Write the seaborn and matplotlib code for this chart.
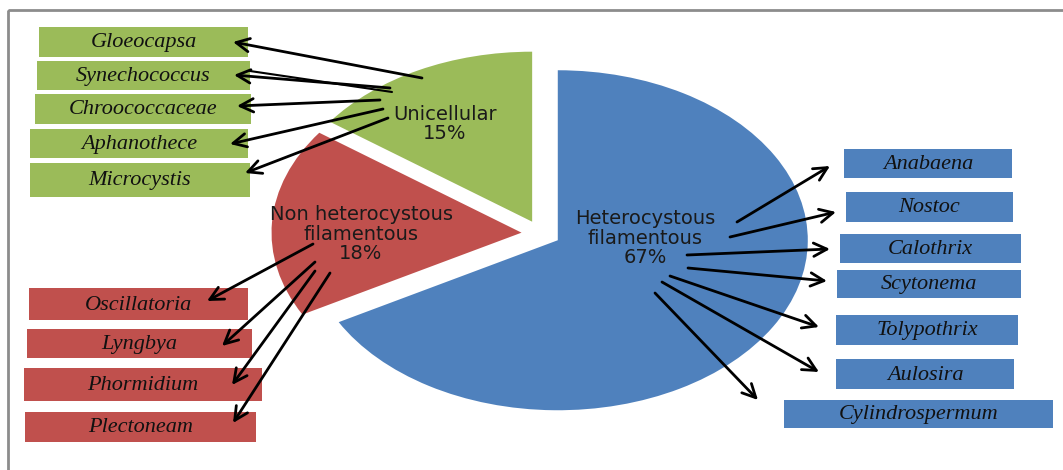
import matplotlib.pyplot as plt
import seaborn as sns
from matplotlib.patches import Rectangle

sns.set_style("white")

# data
groups = ["Heterocystous\nfilamentous", "Non heterocystous\nfilamentous", "Unicellular"]
shares = [67, 18, 15]
hetero_genera = ["Anabaena", "Nostoc", "Calothrix", "Scytonema",
                 "Tolypothrix", "Aulosira", "Cylindrospermum"]
nonhetero_genera = ["Oscillatoria", "Lyngbya", "Phormidium", "Plectoneam"]
unicell_genera = ["Gloeocapsa", "Synechococcus", "Chroococcaceae",
                  "Aphanothece", "Microcystis"]

colors = sns.color_palette(["#4F81BD", "#C0504D", "#9BBB59"])

W, H = 1063, 470
fig = plt.figure(figsize=(W / 100, H / 100), dpi=100)

# pie axes: full figure, stretched to an ellipse (rx=250px, ry=170px)
cx, cy, rx, ry = 541, 233.5, 250, 170
ax = fig.add_axes([0, 0, 1, 1])
ax.pie(shares, colors=colors, startangle=90, counterclock=False,
       explode=[0.078] * 3, wedgeprops=dict(linewidth=0))
ax.set_aspect("auto")
ax.set_xlim(-cx / rx, (W - cx) / rx)
ax.set_ylim(-(H - cy) / ry, cy / ry)
ax.axis("off")

# overlay axes in pixel coordinates for boxes / arrows
ov = fig.add_axes([0, 0, 1, 1], zorder=3)
ov.set_xlim(0, W)
ov.set_ylim(H, 0)
ov.axis("off")
ov.patch.set_alpha(0)

# frame
ov.add_patch(Rectangle((8, 10), W + 20, H + 20, fill=False,
                       edgecolor="#8c8c8c", lw=2))

# group labels
lab_font = dict(fontsize=14, family="DejaVu Sans", color="#1a1a1a",
                ha="center", va="center", linespacing=1.05)
ov.text(645, 238, f"{groups[0]}\n{shares[0]}%", **lab_font)
ov.text(361, 234, f"{groups[1]}\n{shares[1]}%", **lab_font)
ov.text(445, 124, f"{groups[2]}\n{shares[2]}%", **lab_font)

# box layout (x0, y0, x1, y1) in pixels
hetero_boxes = [(844, 149, 1012, 178), (846, 192, 1013, 222), (840, 234, 1021, 263),
                (837, 270, 1021, 298), (836, 315, 1018, 345), (836, 359, 1014, 389),
                (784, 400, 1053, 428)]
nonhetero_boxes = [(29, 288, 248, 320), (27, 329, 252, 358),
                   (24, 368, 262, 401), (25, 412, 256, 442)]
unicell_boxes = [(39, 27, 248, 57), (37, 61, 250, 90), (35, 94, 251, 124),
                 (30, 129, 248, 158), (30, 163, 250, 197)]

# arrows (tail, head)
hetero_arrows = [((737, 222), (830, 166)), ((730, 237), (836, 212)),
                 ((687, 255), (830, 249)), ((688, 268), (827, 281)),
                 ((670, 276), (819, 327)), ((662, 282), (819, 372)),
                 ((655, 293), (758, 400))]
nonhetero_arrows = [((313, 244), (207, 301)), ((315, 262), (222, 346)),
                    ((315, 271), (232, 385)), ((330, 273), (233, 423))]
unicell_arrows = [((422, 78), (233, 42)), ((390, 88), (234, 75)),
                  ((380, 100), (237, 106)), ((383, 109), (230, 144)),
                  ((388, 118), (245, 173))]

box_font = dict(fontsize=16, family="Liberation Serif", style="italic",
                color="#111111", ha="center", va="center")

for names, boxes, col in [(hetero_genera, hetero_boxes, colors[0]),
                          (nonhetero_genera, nonhetero_boxes, colors[1]),
                          (unicell_genera, unicell_boxes, colors[2])]:
    for name, (x0, y0, x1, y1) in zip(names, boxes):
        ov.add_patch(Rectangle((x0, y0), x1 - x0, y1 - y0, facecolor=col,
                               edgecolor="none"))
        ov.text((x0 + x1) / 2, (y0 + y1) / 2 + 1, name, **box_font)

for tail, head in hetero_arrows + nonhetero_arrows + unicell_arrows:
    ov.annotate("", xy=head, xytext=tail,
                arrowprops=dict(arrowstyle="->", lw=2, color="black",
                                mutation_scale=24, shrinkA=0, shrinkB=0))
# second line of the doubled Synechococcus arrow
ov.plot([392, 250], [92, 71], color="black", lw=1.5)

fig.savefig("out.png", dpi=100)
